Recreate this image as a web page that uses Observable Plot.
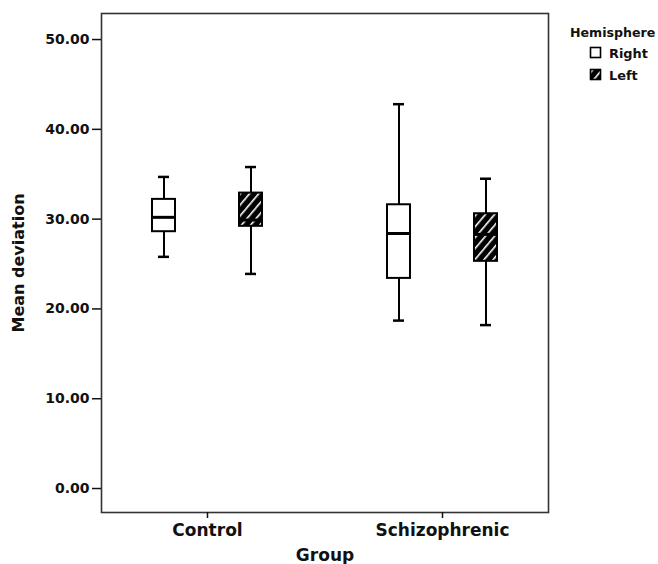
<!DOCTYPE html>
<html>
<head>
<meta charset="utf-8">
<script src="https://cdn.jsdelivr.net/npm/d3@7"></script>
<script src="https://cdn.jsdelivr.net/npm/@observablehq/plot@0.6"></script>
<style>
  html, body { margin: 0; padding: 0; background: white; }
  #wrap { position: relative; width: 658px; height: 564px; }
  #legend { position: absolute; left: 555px; top: 0px; }
</style>
</head>
<body>
<div id="wrap"><div id="chart"></div><div id="legend"></div></div>
<script>
// ---- data ----
const groups        = ["Control", "Control", "Schizophrenic", "Schizophrenic"];
const hemispheres   = ["Right", "Left", "Right", "Left"];
const lowerWhisker  = [25.8, 23.9, 18.7, 18.2];
const q1            = [28.6, 29.2, 23.4, 25.3];
const medians       = [30.2, 29.9, 28.4, 28.3];
const q3            = [32.2, 32.9, 31.6, 30.6];
const upperWhisker  = [34.7, 35.8, 42.8, 34.5];
const yTicks        = [0, 10, 20, 30, 40, 50];
const groupDomain   = ["Control", "Schizophrenic"];
const hemiDomain    = ["Right", "Left"];
const hemiFills     = {Right: "white", Left: "url(#hatch)"};

const data = groups.map((g, i) => ({
  group: g, hemisphere: hemispheres[i],
  lo: lowerWhisker[i], q1: q1[i], med: medians[i], q3: q3[i], hi: upperWhisker[i]
}));
const right = data.filter(d => d.hemisphere === "Right");
const left = data.filter(d => d.hemisphere === "Left");
const common = {fx: "group", x: "hemisphere"};

const plot = Plot.plot({
  width: 658, height: 564,
  marginLeft: 96, marginRight: 106, marginTop: 13, marginBottom: 52,
  style: {fontFamily: "'DejaVu Sans', sans-serif", fontWeight: "bold", color: "#111", background: "white", overflow: "visible"},
  fx: {domain: groupDomain, paddingInner: 0.1, paddingOuter: 0.02, label: null, axis: null},
  x: {domain: hemiDomain, paddingInner: 0.736, paddingOuter: 0.583, axis: null},
  y: {domain: [-2.67, 52.9], axis: null},
  marks: [
    Plot.frame({facet: "super", stroke: "#333", strokeWidth: 1.6}),
    Plot.axisY({ticks: yTicks, tickFormat: d3.format(".2f"), tickSize: 9, tickPadding: 3, fontSize: 14,
                strokeWidth: 1.5, label: "Mean deviation", labelArrow: "none", labelAnchor: "center", labelOffset: 89}),
    Plot.axisFx({anchor: "bottom", tickSize: 6, tickPadding: 5, fontSize: 17, strokeWidth: 1.5,
                 label: "Group", labelAnchor: "center", labelOffset: 48}),
    Plot.ruleX(data, {...common, y1: "lo", y2: "q1", stroke: "black", strokeWidth: 2}),
    Plot.ruleX(data, {...common, y1: "q3", y2: "hi", stroke: "black", strokeWidth: 2}),
    Plot.tickY(data, {...common, y: "lo", insetLeft: 6, insetRight: 6, stroke: "black", strokeWidth: 2.5}),
    Plot.tickY(data, {...common, y: "hi", insetLeft: 6, insetRight: 6, stroke: "black", strokeWidth: 2.5}),
    Plot.barY(right, {...common, y1: "q1", y2: "q3", fill: hemiFills.Right, stroke: "black", strokeWidth: 2}),
    Plot.barY(left, {...common, y1: "q1", y2: "q3", fill: hemiFills.Left, stroke: "black", strokeWidth: 2}),
    Plot.tickY(data, {...common, y: "med", stroke: "black", strokeWidth: 3})
  ]
});

d3.select(plot).insert("defs", ":first-child").html(
  `<pattern id="hatch" patternUnits="userSpaceOnUse" width="7" height="7" patternTransform="rotate(40)">
     <rect width="7" height="7" fill="black"></rect>
     <rect x="3" y="0" width="1.6" height="7" fill="white"></rect>
   </pattern>`);
d3.select(plot).selectAll('[aria-label="y-axis label"] text')
  .attr("font-size", 16).text(t => "Mean deviation");
d3.select(plot).selectAll('[aria-label="fx-axis label"] text').attr("font-size", 17);
document.getElementById("chart").appendChild(plot);

// ---- legend ----
const lg = d3.select("#legend").append("svg").attr("width", 103).attr("height", 90)
  .style("font-family", "'DejaVu Sans', sans-serif").style("font-weight", "bold");
lg.append("text").attr("x", 15).attr("y", 37).attr("font-size", 12.6).attr("fill", "#111").text("Hemisphere");
hemiDomain.forEach((h, i) => {
  const y = 47.5 + i * 22;
  lg.append("rect").attr("x", 35.5).attr("y", y).attr("width", 10).attr("height", 10)
    .attr("fill", hemiFills[h]).attr("stroke", "black").attr("stroke-width", 1.6);
  lg.append("text").attr("x", 54).attr("y", y + 10).attr("font-size", 12.9).attr("fill", "#111").text(h);
});
</script>
</body>
</html>
